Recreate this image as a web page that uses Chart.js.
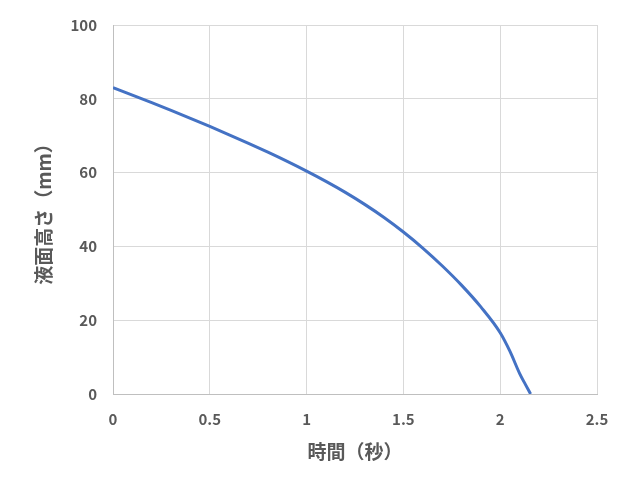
<!DOCTYPE html>
<html>
<head>
<meta charset="utf-8">
<script src="https://cdn.jsdelivr.net/npm/chart.js@4/dist/chart.umd.min.js"></script>
<style>
  html, body { margin: 0; padding: 0; background: #fff; }
  #wrap { width: 631px; height: 496px; }
</style>
</head>
<body>
<div id="wrap"><canvas id="chart" width="631" height="496"></canvas></div>
<script>
// 液面高さ vs 時間
const timeSec  = [0, 0.1, 0.2, 0.3, 0.4, 0.5, 0.6, 0.7, 0.8, 0.9, 1.0, 1.1, 1.2, 1.3, 1.4, 1.5, 1.6, 1.7, 1.8, 1.9, 2.0, 2.05, 2.1, 2.13, 2.157];
const heightMm = [83, 81, 78.95, 76.85, 74.7, 72.5, 70.25, 67.93, 65.53, 63.03, 60.4, 57.62, 54.64, 51.39, 47.84, 43.9, 39.55, 34.75, 29.5, 23.6, 16.6, 11.6, 5.6, 2.6, 0];

const xTitle = '時間（秒）';
const yTitle = '液面高さ（mm）';

const gray = '#595959';
const tickFont = { family: '"Noto Sans CJK JP", "Noto Sans", sans-serif', size: 15, weight: 'bold' };
const titleFont = { family: '"Noto Sans CJK JP", "Noto Sans", sans-serif', size: 19, weight: 'bold' };

const points = timeSec.map((t, i) => ({ x: t, y: heightMm[i] }));

new Chart(document.getElementById('chart'), {
    type: 'scatter',
    data: {
        datasets: [{
            data: points,
            showLine: true,
            borderColor: '#4472C4',
            borderWidth: 3,
            pointRadius: 0,
            cubicInterpolationMode: 'monotone',
            fill: false
        }]
    },
    options: {
        responsive: false,
        animation: false,
        layout: { padding: { top: 22, right: 34, left: 0, bottom: 0 } },
        plugins: { legend: { display: false }, tooltip: { enabled: false } },
        scales: {
            x: {
                type: 'linear',
                min: 0, max: 2.5,
                afterFit: (s) => { s.height = 102; },
                ticks: { stepSize: 0.5, color: gray, font: tickFont, padding: 16, callback: (v) => String(v) },
                grid: { color: '#d9d9d9', lineWidth: 1, drawTicks: false },
                border: { color: '#bfbfbf', width: 1 },
                title: { display: true, text: xTitle, color: gray, font: titleFont, padding: { top: 0, bottom: 33 } }
            },
            y: {
                min: 0, max: 100,
                afterFit: (s) => { s.width = 113; },
                ticks: { stepSize: 20, color: gray, font: tickFont, padding: 16, callback: (v) => String(v) },
                grid: { color: '#d9d9d9', lineWidth: 1, drawTicks: false },
                border: { color: '#bfbfbf', width: 1 },
                title: { display: true, text: yTitle, color: gray, font: titleFont, padding: { top: 32, bottom: 0 } }
            }
        }
    }
});
</script>
</body>
</html>
